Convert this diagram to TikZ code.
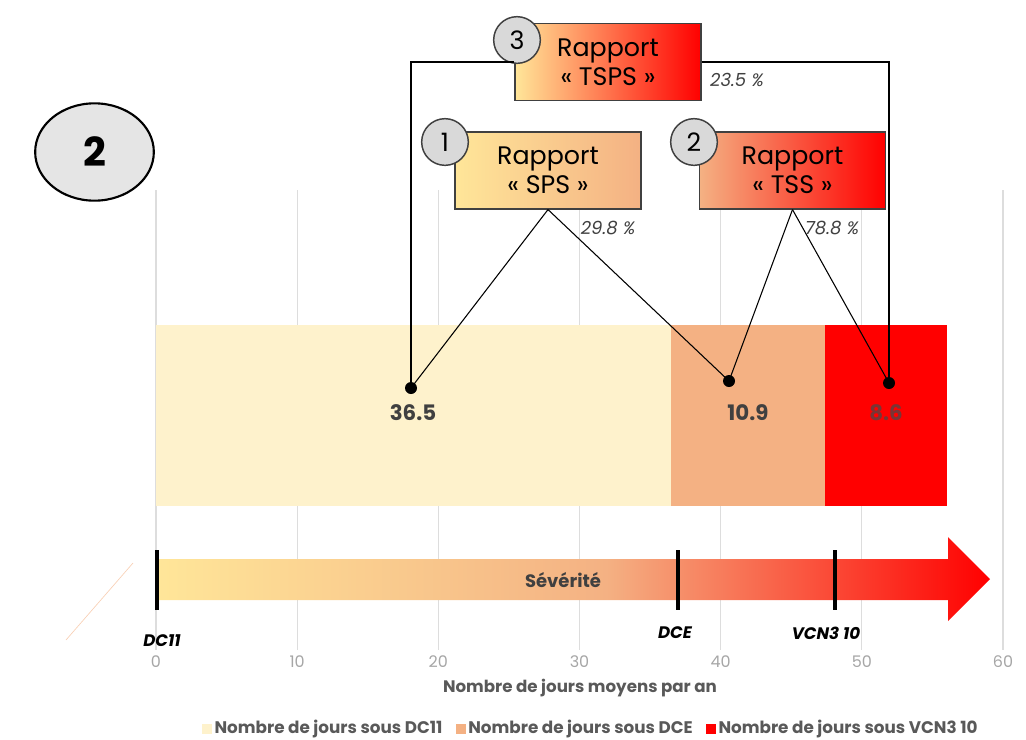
\documentclass[tikz,border=0pt]{standalone}
\usepackage{fontspec}
\setmainfont{Poppins}
\usetikzlibrary{positioning,shapes.geometric}
\definecolor{creme}{HTML}{FEF2CC}
\definecolor{saumon}{HTML}{F4B183}
\definecolor{jaune}{HTML}{FFE699}
\definecolor{rouge}{HTML}{FF0000}
\definecolor{grisfonce}{HTML}{404040}
\definecolor{gristexte}{HTML}{595959}
\definecolor{grille}{HTML}{DDDDDD}
\definecolor{rougeterne}{HTML}{7A3535}
\pgfdeclarehorizontalshading{severite}{100bp}{color(0bp)=(jaune); color(25bp)=(jaune); color(52bp)=(saumon); color(75bp)=(rouge); color(100bp)=(rouge)}

\begin{document}
\begin{tikzpicture}[x=0.75pt,y=-0.75pt,
    rapport/.style={draw=grisfonce,line width=1.1pt,minimum width=139.5pt,minimum height=57.5pt,
        inner sep=0pt,align=center,font=\fontsize{19}{22}\selectfont},
    numero/.style={circle,draw=grisfonce,line width=1.1pt,fill=gray!30,minimum size=35pt,
        inner sep=0pt,font=\fontsize{19}{19}\selectfont},
    pct/.style={font=\itshape\fontsize{13.5}{13.5}\selectfont,text=grisfonce},
    point/.style={circle,fill=black,inner sep=0pt,minimum size=9pt},
    valeur/.style={font=\bfseries\fontsize{16}{16}\selectfont,text=grisfonce},
    repere/.style={font=\bfseries\itshape\fontsize{12.5}{12.5}\selectfont},
    carre/.style={minimum size=7.5pt,inner sep=0pt},
    legende/.style={inner sep=1.5pt,font=\bfseries\fontsize{12.6}{12.6}\selectfont,text=gristexte},
    lien/.style={line width=0.8pt,black}]
    \useasboundingbox (0,0) rectangle (1026,740);

    % grille et graduations
    \foreach \v in {0,10,...,60}
        \draw [grille,line width=0.8pt] ({156+14.117*\v},190) -- ({156+14.117*\v},650)
            node [text=gray!70,font=\fontsize{12}{12}\selectfont] at ({156+14.117*\v},662) {\v};

    % barre empilee
    \fill [creme] (156,325) rectangle (671,506);
    \fill [saumon] (671,325) rectangle (825,506);
    \fill [rouge] (825,325) rectangle (947,506);

    % fleche de severite
    \draw [saumon!60,line width=0.5pt] (133,563) -- (66,640);
    \shade [shading=severite] (156,559) -- (948,559) -- (948,537) -- (990,579) -- (948,621) -- (948,600) -- (156,600) -- cycle;
    \node [font=\bfseries\fontsize{13.5}{13.5}\selectfont,text=grisfonce] (sev) at (563,580) {Sévérité};
    \foreach \x in {157,678,835}
        \draw [line width=3pt] (\x,550) -- (\x,610);
    \node [repere] (dc11) at (162,641) {DC11};
    \node [repere] (dce) at (675,633) {DCE};
    \node [repere] (vcn) at (826,633) {VCN3 10};

    \node [font=\bfseries\fontsize{12.5}{12.5}\selectfont,text=gristexte] (titre) at (580,688) {Nombre de jours moyens par an};

    % legende
    \node [carre,fill=creme] (c1) at (207,729) {};
    \node [legende,right=0pt of c1] (l1) {Nombre de jours sous DC11};
    \node [carre,fill=saumon,right=8pt of l1] (c2) {};
    \node [legende,right=0pt of c2] (l2) {Nombre de jours sous DCE};
    \node [carre,fill=rouge,right=8pt of l2] (c3) {};
    \node [legende,right=0pt of c3] (l3) {Nombre de jours sous VCN3 10};

    % valeurs
    \node [valeur] (v1) at (413,413) {36.5};
    \node [valeur] (v2) at (748,413) {10.9};
    \node [valeur,text=rougeterne] (v3) at (886,413) {8.6};

    % rapports
    \node [rapport,left color=jaune,right color=saumon] (sps) at (548,170.5) {Rapport\\« SPS »};
    \node [rapport,left color=saumon,right color=rouge] (tss) at (792.5,170.5) {Rapport\\« TSS »};
    \node [rapport,left color=jaune,middle color=saumon,right color=rouge] (tsps) at (608,62) {Rapport\\« TSPS »};
    \node [numero] (n1) at (445,142) {1};
    \node [numero] (n2) at (694,142) {2};
    \node [numero] (n3) at (517,40) {3};

    \node [pct] (p29) at (608,228) {29.8 \%};
    \node [pct] (p78) at (832,228) {78.8 \%};
    \node [pct] (p23) at (737,80) {23.5 \%};

    % points et liens
    \node [point] (d1) at (411,388) {};
    \node [point] (d2) at (729,381) {};
    \node [point] (d3) at (889,383) {};
    \draw [lien] (sps.south) -- (d1.center);
    \draw [lien] (sps.south) -- (d2.center);
    \draw [lien] (tss.south) -- (d2.center);
    \draw [lien] (tss.south) -- (d3.center);
    \draw [lien] (tsps.west) -| (d1.center);
    \draw [lien] (tsps.east) -| (d3.center);

    % numero de la figure
    \node [ellipse,draw,line width=1.6pt,fill=gray!20,minimum width=89pt,minimum height=73pt,
        font=\bfseries\fontsize{30}{30}\selectfont] (fig) at (94.5,152) {2};
\end{tikzpicture}
\end{document}
